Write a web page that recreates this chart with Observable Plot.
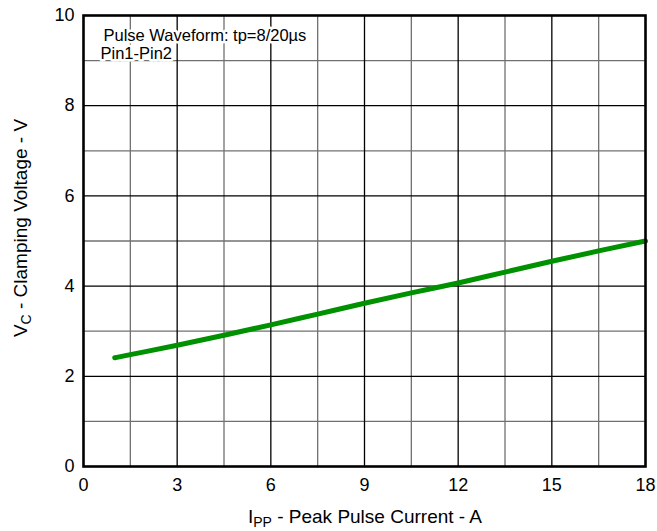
<!DOCTYPE html>
<html>
<head>
<meta charset="utf-8">
<script src="https://cdn.jsdelivr.net/npm/d3@7"></script>
<script src="https://cdn.jsdelivr.net/npm/@observablehq/plot@0.6"></script>
<style>
  html, body { margin: 0; padding: 0; background: #fff; }
  #chart svg { display: block; }
</style>
</head>
<body>
<div id="chart"></div>
<script>
// Data
const currentA = [1, 1.5, 3, 4.5, 6, 7.5, 9, 10.5, 12, 13.5, 15, 16.5, 18];
const clampV   = [2.41, 2.48, 2.69, 2.91, 3.14, 3.38, 3.62, 3.85, 4.07, 4.31, 4.55, 4.78, 5.00];

const xTicks = [0, 3, 6, 9, 12, 15, 18];
const yTicks = [0, 2, 4, 6, 8, 10];
const xMinor = [1.5, 4.5, 7.5, 10.5, 13.5, 16.5];
const xMajor = [3, 6, 9, 12, 15];
const yMinor = [1, 3, 5, 7, 9];
const yMajor = [2, 4, 6, 8];

const noteLines = ["Pulse Waveform: tp=8/20µs", "Pin1-Pin2"];

const data = currentA.map((x, i) => ({x, y: clampV[i]}));

const font = "Liberation Sans, Arial, sans-serif";
const W = 657, H = 531, mL = 83, mR = 12, mT = 15, mB = 65;

const chart = Plot.plot({
  width: W, height: H,
  marginLeft: mL, marginRight: mR, marginTop: mT, marginBottom: mB,
  style: {fontFamily: font, background: "#fff", color: "#000"},
  x: {domain: [0, 18]},
  y: {domain: [0, 10]},
  marks: [
    Plot.ruleX(xMinor, {stroke: "#707070", strokeWidth: 1.3}),
    Plot.ruleY(yMinor, {stroke: "#707070", strokeWidth: 1.3}),
    Plot.ruleX(xMajor, {stroke: "#000", strokeWidth: 1.3}),
    Plot.ruleY(yMajor, {stroke: "#000", strokeWidth: 1.3}),
    Plot.text([noteLines[0]], {frameAnchor: "top-left", dx: 20, dy: 14, textAnchor: "start", lineAnchor: "top", fontSize: 16.5, fill: "#000", stroke: "#fff", strokeWidth: 5}),
    Plot.text([noteLines[1]], {frameAnchor: "top-left", dx: 17, dy: 32, textAnchor: "start", lineAnchor: "top", fontSize: 16.5, fill: "#000", stroke: "#fff", strokeWidth: 5}),
    Plot.line(data, {x: "x", y: "y", stroke: "#009100", strokeWidth: 5, curve: "monotone-x", strokeLinecap: "round"}),
    Plot.frame({stroke: "#000", strokeWidth: 2.6}),
    Plot.axisX({ticks: xTicks, tickSize: 0, tickPadding: 12, fontSize: 18, label: null}),
    Plot.axisY({ticks: yTicks, tickSize: 0, tickPadding: 9, fontSize: 18, label: null})
  ]
});

const svg = d3.select(chart);
// X axis label with subscript
const xl = svg.append("text")
  .attr("x", (mL + W - mR) / 2 + 1).attr("y", 523)
  .attr("text-anchor", "middle").attr("font-size", 19).attr("font-family", font).attr("fill", "#000");
xl.append("tspan").text("I");
xl.append("tspan").attr("font-size", 14).attr("dy", 4).text("PP");
xl.append("tspan").attr("dy", -4).text(" - Peak Pulse Current - A");

// Y axis label with subscript
const yl = svg.append("text")
  .attr("transform", `translate(27,228) rotate(-90)`)
  .attr("text-anchor", "middle").attr("font-size", 19).attr("font-family", font).attr("fill", "#000");
yl.append("tspan").text("V");
yl.append("tspan").attr("font-size", 14).attr("dy", 4).text("C");
yl.append("tspan").attr("dy", -4).text(" - Clamping Voltage - V");

document.getElementById("chart").appendChild(chart);
</script>
</body>
</html>
